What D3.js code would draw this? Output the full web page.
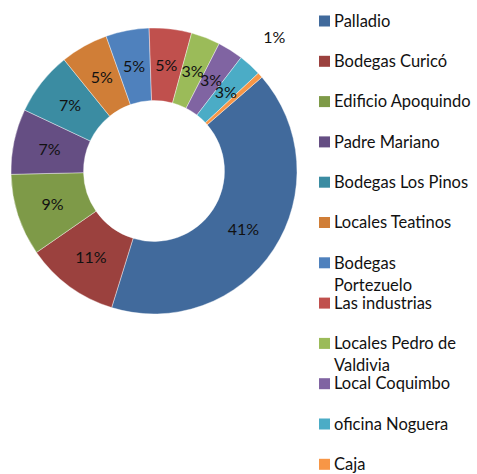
<!DOCTYPE html>
<html>
<head>
<meta charset="utf-8">
<script src="https://cdn.jsdelivr.net/npm/d3@7"></script>
<style>
   body { margin: 0; background: #fff; }
   svg { display: block; font-family: Lato, "Open Sans", sans-serif; }
</style>
</head>
<body>
<script>
"use strict"

const categories = ['Palladio', 'Bodegas Curicó', 'Edificio Apoquindo', 'Padre Mariano',
   'Bodegas Los Pinos', 'Locales Teatinos', 'Bodegas Portezuelo', 'Las industrias',
   'Locales Pedro de Valdivia', 'Local Coquimbo', 'oficina Noguera', 'Caja']
const values = [41.3, 10.6, 9.3, 7.4, 7.2, 5.4, 4.9, 4.8, 3.3, 2.9, 2.6, 0.6]
const legendLines = [['Palladio'], ['Bodegas Curicó'], ['Edificio Apoquindo'], ['Padre Mariano'],
   ['Bodegas Los Pinos'], ['Locales Teatinos'], ['Bodegas', 'Portezuelo'], ['Las industrias'],
   ['Locales Pedro de', 'Valdivia'], ['Local Coquimbo'], ['oficina Noguera'], ['Caja']]
const colors = ['#416a9c', '#9b413e', '#7e9a48', '#654e83', '#3b8ca2', '#d07e37',
   '#4f81bd', '#c0504d', '#9bbb59', '#8064a2', '#4bacc6', '#f79646']

const w = 477
const h = 474
const cx = 154, cy = 171
const r_out = 143, r_in = 70.5
const start = 49 * Math.PI / 180

const svg = d3.select('body')
   .append('svg')
      .attr('width', w)
      .attr('height', h)

const total = d3.sum(values)
const pie = d3.pie().sort(null).startAngle(start).endAngle(start + 2 * Math.PI)
const arcs = pie(values)
const arc = d3.arc().innerRadius(r_in).outerRadius(r_out)

const g = svg.append('g').attr('transform', `translate(${cx}, ${cy})`)

g.selectAll('path')
   .data(arcs)
   .enter()
   .append('path')
      .attr('d', arc)
      .attr('fill', (d, i) => colors[i])
      .attr('stroke', '#fff')
      .attr('stroke-width', 0.4)

// tiny slices get their label pushed outside the ring
const outArc = d3.arc().innerRadius(180).outerRadius(180)

g.selectAll('text')
   .data(arcs)
   .enter()
   .append('text')
      .attr('transform', d => {
         if (d.value / total < 0.01) {
            const mid = (d.startAngle + d.endAngle) / 2 - 6 * Math.PI / 180
            const p = outArc.centroid({startAngle: mid, endAngle: mid})
            return `translate(${p})`
         }
         return `translate(${arc.centroid(d)})`
      })
      .attr('text-anchor', 'middle')
      .attr('dy', '0.35em')
      .style('font-size', '16px')
      .style('fill', '#111')
      .text(d => `${Math.round(d.value / total * 100)}%`)

const legend = svg.append('g').attr('transform', 'translate(319, 21)')
const step = 40.3

const item = legend.selectAll('g')
   .data(categories)
   .enter()
   .append('g')
      .attr('transform', (d, i) => `translate(0, ${i * step})`)

item.append('rect')
   .attr('x', 0)
   .attr('y', -5.5)
   .attr('width', 11)
   .attr('height', 11)
   .attr('fill', (d, i) => colors[i])

item.append('text')
   .attr('x', 15)
   .style('font-size', '16.5px')
   .style('fill', '#111')
   .selectAll('tspan')
   .data((d, i) => legendLines[i])
   .enter()
   .append('tspan')
      .attr('x', 15)
      .attr('dy', (d, j) => j === 0 ? '0.35em' : '22px')
      .text(d => d)
</script>
</body>
</html>
